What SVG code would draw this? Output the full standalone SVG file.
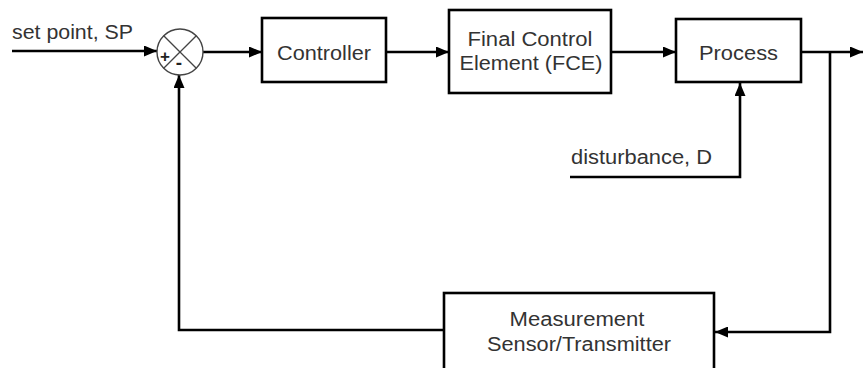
<svg xmlns="http://www.w3.org/2000/svg" width="863" height="368" viewBox="0 0 863 368">
<defs>
<marker id="arr" viewBox="0 0 13 11" refX="13" refY="5.5" markerWidth="13" markerHeight="11" markerUnits="userSpaceOnUse" orient="auto">
<path d="M0,0 L13,5.5 L0,11 Z" fill="#000"/>
</marker>
</defs>
<style>
.box{fill:#fff;stroke:#000;stroke-width:2.6}
.ln{fill:none;stroke:#000;stroke-width:2.6}
.t{font-family:"Liberation Sans",Arial,sans-serif;font-size:20px;fill:#333}
.s{font-family:"Liberation Sans",Arial,sans-serif;fill:#222;font-weight:bold}
</style>
<rect width="863" height="368" fill="#fff"/>
<g id="connectors">
<path class="ln" d="M12,51 H157" marker-end="url(#arr)"/>
<path class="ln" d="M203,52 H262" marker-end="url(#arr)"/>
<path class="ln" d="M386,52 H449" marker-end="url(#arr)"/>
<path class="ln" d="M611,52 H676" marker-end="url(#arr)"/>
<path class="ln" d="M801,52 H863" marker-end="url(#arr)"/>
<path class="ln" d="M830,52 V332 H715" marker-end="url(#arr)"/>
<path class="ln" d="M570,177 H740 V83" marker-end="url(#arr)"/>
<path class="ln" d="M444,330 H179 V75" marker-end="url(#arr)"/>
</g>
<g id="sp_label"><text class="t" x="12" y="39" textLength="121" lengthAdjust="spacingAndGlyphs">set point, SP</text></g>
<g id="dist_label"><text class="t" x="571" y="164" textLength="141" lengthAdjust="spacingAndGlyphs">disturbance, D</text></g>
<g id="summing">
<circle cx="180" cy="52" r="23" fill="#fff" stroke="#444" stroke-width="1.4"/>
<line x1="163.7" y1="35.7" x2="196.3" y2="68.3" stroke="#444" stroke-width="1.3"/>
<line x1="196.3" y1="35.7" x2="163.7" y2="68.3" stroke="#444" stroke-width="1.3"/>
<text class="s" x="165" y="62" text-anchor="middle" font-size="17">+</text>
<text class="s" x="179" y="69" text-anchor="middle" font-size="19">-</text>
</g>
<g id="controller">
<rect class="box" x="262" y="18" width="124" height="64"/>
<text class="t" x="324" y="60" text-anchor="middle" textLength="94" lengthAdjust="spacingAndGlyphs">Controller</text>
</g>
<g id="fce">
<rect class="box" x="449" y="10" width="162" height="83"/>
<text class="t" x="530" y="46" text-anchor="middle" textLength="125" lengthAdjust="spacingAndGlyphs">Final Control</text>
<text class="t" x="531" y="70" text-anchor="middle" textLength="143" lengthAdjust="spacingAndGlyphs">Element (FCE)</text>
</g>
<g id="process">
<rect class="box" x="676" y="19" width="125" height="63"/>
<text class="t" x="738.5" y="60" text-anchor="middle" textLength="79" lengthAdjust="spacingAndGlyphs">Process</text>
</g>
<g id="measurement">
<rect class="box" x="444" y="293" width="270" height="90"/>
<text class="t" x="577" y="326" text-anchor="middle" textLength="135" lengthAdjust="spacingAndGlyphs">Measurement</text>
<text class="t" x="579" y="351" text-anchor="middle" textLength="184" lengthAdjust="spacingAndGlyphs">Sensor/Transmitter</text>
</g>
</svg>
